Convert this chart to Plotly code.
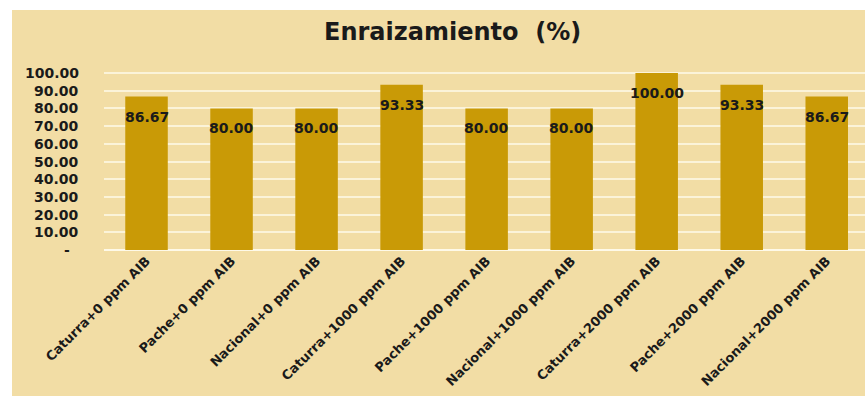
import plotly.graph_objects as go

categories = ["Caturra+0 ppm AIB", "Pache+0 ppm AIB", "Nacional+0 ppm AIB",
              "Caturra+1000 ppm AIB", "Pache+1000 ppm AIB", "Nacional+1000 ppm AIB",
              "Caturra+2000 ppm AIB", "Pache+2000 ppm AIB", "Nacional+2000 ppm AIB"]
values = [86.67, 80.00, 80.00, 93.33, 80.00, 80.00, 100.00, 93.33, 86.67]
y_tickvals = [0, 10, 20, 30, 40, 50, 60, 70, 80, 90, 100]
y_ticktext = ["-", "10.00", "20.00", "30.00", "40.00", "50.00", "60.00", "70.00", "80.00", "90.00", "100.00"]

BG = "#F2DDA5"
BAR = "#C99A06"
FONT = "DejaVu Sans"
TXT = "#1a1a1a"
YFS = 14

ML, MT, MB = 104, 70, 146
PW, PH = 865 - ML, 396 - MT - MB

fig = go.Figure()
fig.add_trace(go.Bar(x=categories, y=values, marker=dict(color=BAR, line=dict(width=0)),
                     width=0.5, hoverinfo="skip"))

annotations = []
for c, v in zip(categories, values):
    annotations.append(dict(x=c, y=v, xref="x", yref="y", text=f"<b>{v:.2f}</b>",
                            showarrow=False, yanchor="top", yshift=-10,
                            font=dict(family=FONT, size=14, color=TXT)))
# y tick labels right-aligned at ~81 px; the "-" zero label sits near 69 px
for tv, tt in zip(y_tickvals, y_ticktext):
    annotations.append(dict(x=0, y=tv, xref="paper", yref="y", text=f"<b>{tt}</b>",
                            showarrow=False, xanchor="right", yanchor="middle",
                            xshift=(81 - ML) if tt != "-" else (72 - ML),
                            font=dict(family=FONT, size=YFS, color=TXT)))
annotations.append(dict(x=0.5, y=1.0, xref="paper", yref="paper", xshift=-32,
                        text="<b>Enraizamiento\u00a0\u00a0(%)</b>", showarrow=False,
                        yanchor="bottom", yshift=22, xanchor="center",
                        font=dict(family=FONT, size=24, color=TXT)))

fig.update_layout(
    width=865, height=396,
    margin=dict(l=ML, r=0, t=MT, b=MB, pad=0, autoexpand=False),
    paper_bgcolor=BG, plot_bgcolor="rgba(0,0,0,0)",
    showlegend=False,
    annotations=annotations,
    xaxis=dict(range=[-0.5, 8.45], tickangle=-45, showgrid=False, showline=False,
               automargin=False, ticks="",
               tickfont=dict(family=FONT, size=13, color=TXT, weight="bold")),
    yaxis=dict(range=[0, 101.7], tickvals=y_tickvals, showticklabels=False,
               automargin=False,
               showgrid=True, gridcolor="rgba(255,252,240,0.7)", gridwidth=1.5,
               zeroline=True, zerolinecolor="rgba(255,252,240,0.9)", zerolinewidth=1.5,
               ticks=""),
    shapes=[
        dict(type="rect", xref="paper", yref="paper", layer="below",
             x0=-ML / PW, x1=1, y0=1 + (MT - 10) / PH, y1=1 + MT / PH,
             fillcolor="white", line=dict(width=0)),
        dict(type="rect", xref="paper", yref="paper", layer="below",
             x0=-ML / PW, x1=-(ML - 12) / PW, y0=-MB / PH, y1=1 + MT / PH,
             fillcolor="white", line=dict(width=0)),
    ],
    bargap=0.5,
)

fig.write_html("out.html")
